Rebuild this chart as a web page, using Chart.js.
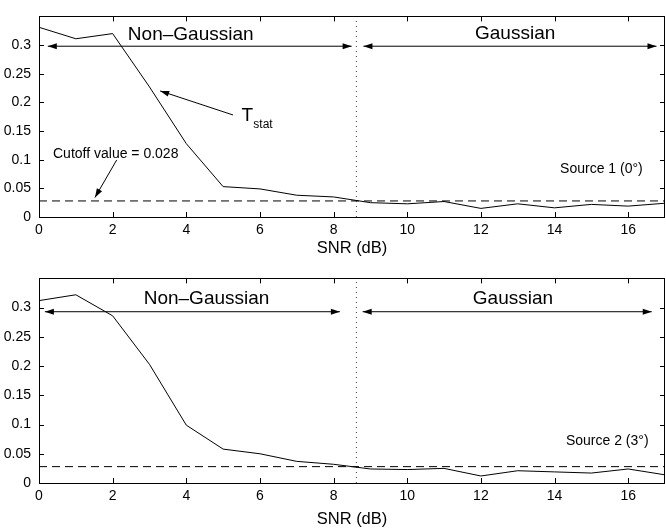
<!DOCTYPE html>
<html>
<head>
<meta charset="utf-8">
<script src="https://cdn.jsdelivr.net/npm/chart.js@4"></script>
<style>
  body { margin: 0; background: #fff; }
  #wrap { position: relative; width: 666px; height: 529px; }
  canvas { position: absolute; left: 0; }
  #c1 { top: 0; }
  #c2 { top: 262px; }
</style>
</head>
<body>
<div id="wrap">
  <canvas id="c1" width="666" height="262"></canvas>
  <canvas id="c2" width="666" height="267"></canvas>
</div>
<script>
// ===== Data =====
const snr = [0, 1, 2, 3, 4, 5, 6, 7, 8, 9, 10, 11, 12, 13, 14, 15, 16, 17];
const tstatSource1 = [0.331, 0.311, 0.320, 0.227, 0.128, 0.053, 0.049, 0.038, 0.035, 0.025, 0.023, 0.027, 0.015, 0.023, 0.016, 0.022, 0.019, 0.024];
const tstatSource2 = [0.312, 0.322, 0.286, 0.203, 0.099, 0.058, 0.050, 0.037, 0.032, 0.024, 0.023, 0.025, 0.012, 0.021, 0.019, 0.017, 0.024, 0.014];
const cutoffValue = 0.028;
const boundarySnr = 8.62;
const xTickValues = [0, 2, 4, 6, 8, 10, 12, 14, 16];
const yTickValues = [0, 0.05, 0.1, 0.15, 0.2, 0.25, 0.3];

const FONT = "'Liberation Sans', Arial, Helvetica, sans-serif";
Chart.defaults.color = '#000';
Chart.defaults.font.family = FONT;

// ===== Annotations (in data units) =====
const notes1 = {
  arrows: [
    { from: [0.24, 0.298], to: [8.49, 0.298], both: true },
    { from: [8.81, 0.298], to: [16.77, 0.298], both: true },
    { from: [5.27, 0.178], to: [3.29, 0.22] },
    { from: [2.11, 0.0995], to: [1.52, 0.034] }
  ],
  texts: [
    { t: 'Non\u2013Gaussian', x: 4.12, y: 0.308, size: 19, align: 'center' },
    { t: 'Gaussian', x: 12.93, y: 0.311, size: 19, align: 'center' },
    { t: 'Cutoff value = 0.028', x: 0.38, y: 0.1025, size: 14, align: 'left' },
    { t: 'T', x: 5.50, y: 0.168, size: 19, align: 'left' },
    { t: 'stat', x: 5.82, y: 0.156, size: 12, align: 'left' },
    { t: 'Source 1 (0\u00b0)', x: 14.15, y: 0.076, size: 14, align: 'left' }
  ]
};
const notes2 = {
  arrows: [
    { from: [0.16, 0.293], to: [8.17, 0.293], both: true },
    { from: [8.79, 0.293], to: [16.64, 0.293], both: true }
  ],
  texts: [
    { t: 'Non\u2013Gaussian', x: 4.55, y: 0.306, size: 19, align: 'center' },
    { t: 'Gaussian', x: 12.87, y: 0.307, size: 19, align: 'center' },
    { t: 'Source 2 (3\u00b0)', x: 14.31, y: 0.065, size: 14, align: 'left' }
  ]
};

function arrowHead(ctx, x1, y1, x2, y2) {
  const a = Math.atan2(y2 - y1, x2 - x1);
  const len = 9, hw = 3;
  ctx.beginPath();
  ctx.moveTo(x2, y2);
  ctx.lineTo(x2 - len * Math.cos(a) + hw * Math.sin(a), y2 - len * Math.sin(a) - hw * Math.cos(a));
  ctx.lineTo(x2 - len * Math.cos(a) - hw * Math.sin(a), y2 - len * Math.sin(a) + hw * Math.cos(a));
  ctx.closePath();
  ctx.fill();
}

// frame, inward ticks on all sides, arrows and labels
const decorPlugin = {
  id: 'decor',
  afterDraw(chart, args, opts) {
    const ctx = chart.ctx;
    const xs = chart.scales.x, ys = chart.scales.y;
    const { left, right, top, bottom } = chart.chartArea;
    ctx.save();
    ctx.strokeStyle = '#000';
    ctx.fillStyle = '#000';
    ctx.lineWidth = 1;
    ctx.strokeRect(Math.round(left) + 0.5, Math.round(top) + 0.5, Math.round(right - left) - 1, Math.round(bottom - top));

    ctx.beginPath();
    xTickValues.forEach(v => {
      const px = Math.round(xs.getPixelForValue(v)) + 0.5;
      ctx.moveTo(px, bottom); ctx.lineTo(px, bottom - 5);
      ctx.moveTo(px, top); ctx.lineTo(px, top + 5);
    });
    yTickValues.forEach(v => {
      const py = Math.round(ys.getPixelForValue(v)) + 0.5;
      ctx.moveTo(left, py); ctx.lineTo(left + 5, py);
      ctx.moveTo(right, py); ctx.lineTo(right - 5, py);
    });
    ctx.stroke();

    opts.notes.arrows.forEach(a => {
      const x1 = xs.getPixelForValue(a.from[0]), y1 = ys.getPixelForValue(a.from[1]);
      const x2 = xs.getPixelForValue(a.to[0]), y2 = ys.getPixelForValue(a.to[1]);
      ctx.beginPath();
      ctx.moveTo(x1, y1); ctx.lineTo(x2, y2);
      ctx.stroke();
      arrowHead(ctx, x1, y1, x2, y2);
      if (a.both) arrowHead(ctx, x2, y2, x1, y1);
    });

    ctx.textBaseline = 'alphabetic';
    opts.notes.texts.forEach(t => {
      ctx.font = t.size + 'px ' + FONT;
      ctx.textAlign = t.align;
      ctx.fillText(t.t, xs.getPixelForValue(t.x), ys.getPixelForValue(t.y));
    });
    ctx.restore();
  }
};

function makeChart(canvasId, values, notes, padTop, axisHeight, titlePad) {
  return new Chart(document.getElementById(canvasId), {
    type: 'line',
    data: {
      datasets: [
        {
          data: snr.map((x, i) => ({ x, y: values[i] })),
          borderColor: '#000', borderWidth: 1, pointRadius: 0
        },
        {
          data: [{ x: 0, y: cutoffValue }, { x: 17, y: cutoffValue }],
          borderColor: '#000', borderWidth: 1, borderDash: [8, 5], pointRadius: 0
        },
        {
          data: [{ x: boundarySnr, y: 0 }, { x: boundarySnr, y: 0.35 }],
          borderColor: '#444', borderWidth: 1, borderDash: [1, 4], pointRadius: 0
        }
      ]
    },
    options: {
      responsive: false,
      animation: false,
      layout: { padding: { left: 0, right: 1, top: padTop, bottom: 0 } },
      plugins: { legend: { display: false }, tooltip: { enabled: false }, decor: { notes } },
      scales: {
        x: {
          type: 'linear', min: 0, max: 17,
          grid: { display: false, drawTicks: false },
          border: { display: false },
          ticks: { stepSize: 2, includeBounds: false, padding: 5, maxRotation: 0, font: { size: 14 } },
          title: { display: true, text: 'SNR (dB)', font: { size: 16.5 }, padding: { top: 0, bottom: titlePad } },
          afterFit: s => { s.height = axisHeight; }
        },
        y: {
          min: 0, max: 0.35,
          grid: { display: false, drawTicks: false },
          border: { display: false },
          ticks: {
            padding: 8, font: { size: 14 },
            callback: v => String(parseFloat(Number(v).toFixed(2)))
          },
          afterBuildTicks: s => { s.ticks = yTickValues.map(v => ({ value: v })); },
          afterFit: s => { s.width = 39; }
        }
      }
    },
    plugins: [decorPlugin]
  });
}

makeChart('c1', tstatSource1, notes1, 9, 45, 4);
makeChart('c2', tstatSource2, notes2, 13, 46, 0);
</script>
</body>
</html>
